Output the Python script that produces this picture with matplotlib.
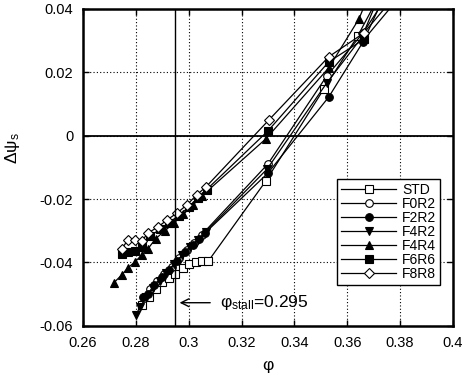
import numpy as np
import matplotlib.pyplot as plt

plt.rcParams['font.family'] = ['Liberation Sans', 'DejaVu Sans']
plt.rcParams['mathtext.fontset'] = 'custom'
plt.rcParams['mathtext.rm'] = 'Liberation Sans'
plt.rcParams['mathtext.it'] = 'Liberation Sans'

# ---- data ----
phi_stall = 0.295

std_phi = [0.2825, 0.2850, 0.2875, 0.2900, 0.2925, 0.2948, 0.2978, 0.3001, 0.3028, 0.3050, 0.3075, 0.3292, 0.3512, 0.3640, 0.3720]
std_psi = [-0.0535, -0.0510, -0.0485, -0.0462, -0.0448, -0.0436, -0.0417, -0.0405, -0.0398, -0.0395, -0.0395, -0.0143, 0.0148, 0.0315, 0.0440]

f0r2_phi = [0.2830, 0.2855, 0.2880, 0.2905, 0.2937, 0.2965, 0.2994, 0.3020, 0.3050, 0.3300, 0.3523, 0.3660, 0.3750]
f0r2_psi = [-0.0512, -0.0485, -0.0458, -0.0436, -0.0414, -0.0385, -0.0362, -0.0338, -0.0312, -0.0089, 0.0189, 0.0324, 0.0440]

f2r2_phi = [0.2827, 0.2845, 0.2870, 0.2899, 0.2925, 0.2956, 0.2986, 0.3015, 0.3040, 0.3062, 0.3300, 0.3530, 0.3660, 0.3740]
f2r2_psi = [-0.0508, -0.0500, -0.0470, -0.0445, -0.0425, -0.0395, -0.0367, -0.0345, -0.0325, -0.0307, -0.0118, 0.0122, 0.0296, 0.0440]

f4r2_phi = [0.2801, 0.2816, 0.2840, 0.2865, 0.2890, 0.2915, 0.2945, 0.2975, 0.3005, 0.3035, 0.3065, 0.3297, 0.3523, 0.3655, 0.3720]
f4r2_psi = [-0.0565, -0.0540, -0.0510, -0.0482, -0.0458, -0.0432, -0.0405, -0.0378, -0.0350, -0.0328, -0.0303, -0.0105, 0.0167, 0.0310, 0.0440]

f4r4_phi = [0.2717, 0.2747, 0.2770, 0.2797, 0.2823, 0.2845, 0.2875, 0.2910, 0.2945, 0.2980, 0.3015, 0.3050, 0.3292, 0.3530, 0.3644, 0.3680]
f4r4_psi = [-0.0464, -0.0439, -0.0417, -0.0398, -0.0376, -0.0358, -0.0325, -0.0300, -0.0275, -0.0248, -0.0220, -0.0190, -0.0010, 0.0214, 0.0368, 0.0440]

f6r6_phi = [0.2747, 0.2772, 0.2797, 0.2823, 0.2855, 0.2890, 0.2925, 0.2962, 0.3000, 0.3035, 0.3068, 0.3300, 0.3530, 0.3665, 0.3780]
f6r6_psi = [-0.0372, -0.0368, -0.0365, -0.0350, -0.0318, -0.0295, -0.0275, -0.0252, -0.0226, -0.0196, -0.0170, 0.0015, 0.0233, 0.0305, 0.0420]

f8r8_phi = [0.2747, 0.2770, 0.2797, 0.2823, 0.2846, 0.2884, 0.2918, 0.2956, 0.2994, 0.3030, 0.3065, 0.3304, 0.3530, 0.3663, 0.3770]
f8r8_psi = [-0.0357, -0.0329, -0.0329, -0.0332, -0.0307, -0.0288, -0.0266, -0.0244, -0.0218, -0.0187, -0.0162, 0.0050, 0.0249, 0.0324, 0.0430]

xticks = [0.26, 0.28, 0.30, 0.32, 0.34, 0.36, 0.38, 0.40]
xticklabels = ['0.26', '0.28', '0.3', '0.32', '0.34', '0.36', '0.38', '0.4']
yticks = [-0.06, -0.04, -0.02, 0, 0.02, 0.04]
yticklabels = ['-0.06', '-0.04', '-0.02', '0', '0.02', '0.04']

series = [
    ('STD', std_phi, std_psi, 's', 'white'),
    ('F0R2', f0r2_phi, f0r2_psi, 'o', 'white'),
    ('F2R2', f2r2_phi, f2r2_psi, 'o', 'black'),
    ('F4R2', f4r2_phi, f4r2_psi, 'v', 'black'),
    ('F4R4', f4r4_phi, f4r4_psi, '^', 'black'),
    ('F6R6', f6r6_phi, f6r6_psi, 's', 'black'),
    ('F8R8', f8r8_phi, f8r8_psi, 'D', 'white'),
]

fig = plt.figure(figsize=(4.66, 3.87), dpi=100)
ax = fig.add_axes([0.178, 0.158, 0.794, 0.819])

for name, x, y, m, fc in series:
    ms = 5.5 if m != 'D' else 4.8
    ax.plot(x, y, color='black', lw=0.9, marker=m, ms=ms, mfc=fc, mec='black',
            mew=0.8, label=name, clip_on=True)

ax.set_xlim(0.26, 0.40)
ax.set_ylim(-0.06, 0.04)
ax.set_xticks(xticks)
ax.set_xticklabels(xticklabels)
ax.set_yticks(yticks)
ax.set_yticklabels(yticklabels)
ax.tick_params(direction='in', top=True, right=True, length=4, width=1, labelsize=10.5, pad=7)
ax.grid(True, color='black', linestyle=(0, (1, 2)), linewidth=0.8)
for s in ax.spines.values():
    s.set_linewidth(1.8)

ax.axhline(0, color='black', lw=1.3)
ax.axvline(phi_stall, color='black', lw=1.0)

ax.annotate('', xy=(phi_stall + 0.0005, -0.0527), xytext=(0.3092, -0.0527),
            arrowprops=dict(arrowstyle='->', color='black', lw=1.0, mutation_scale=14))
ax.text(0.3120, -0.0525, r'φ$_{\mathrm{stall}}$=0.295', fontsize=12.5, ha='left', va='center')

ax.set_xlabel('φ', fontsize=12.5, labelpad=6)
ax.set_ylabel(r'Δψ$_{\mathrm{s}}$', fontsize=12.5)
ax.yaxis.set_label_coords(-0.165, 0.56)

leg = ax.legend(loc='upper left', bbox_to_anchor=(0.686, 0.464), borderaxespad=0,
                fancybox=False, framealpha=1, edgecolor='black', fontsize=10,
                labelspacing=0.0, handlelength=4.0, handletextpad=0.4,
                borderpad=0.3)
leg.get_frame().set_linewidth(1.0)

fig.savefig('out.png', dpi=100)
